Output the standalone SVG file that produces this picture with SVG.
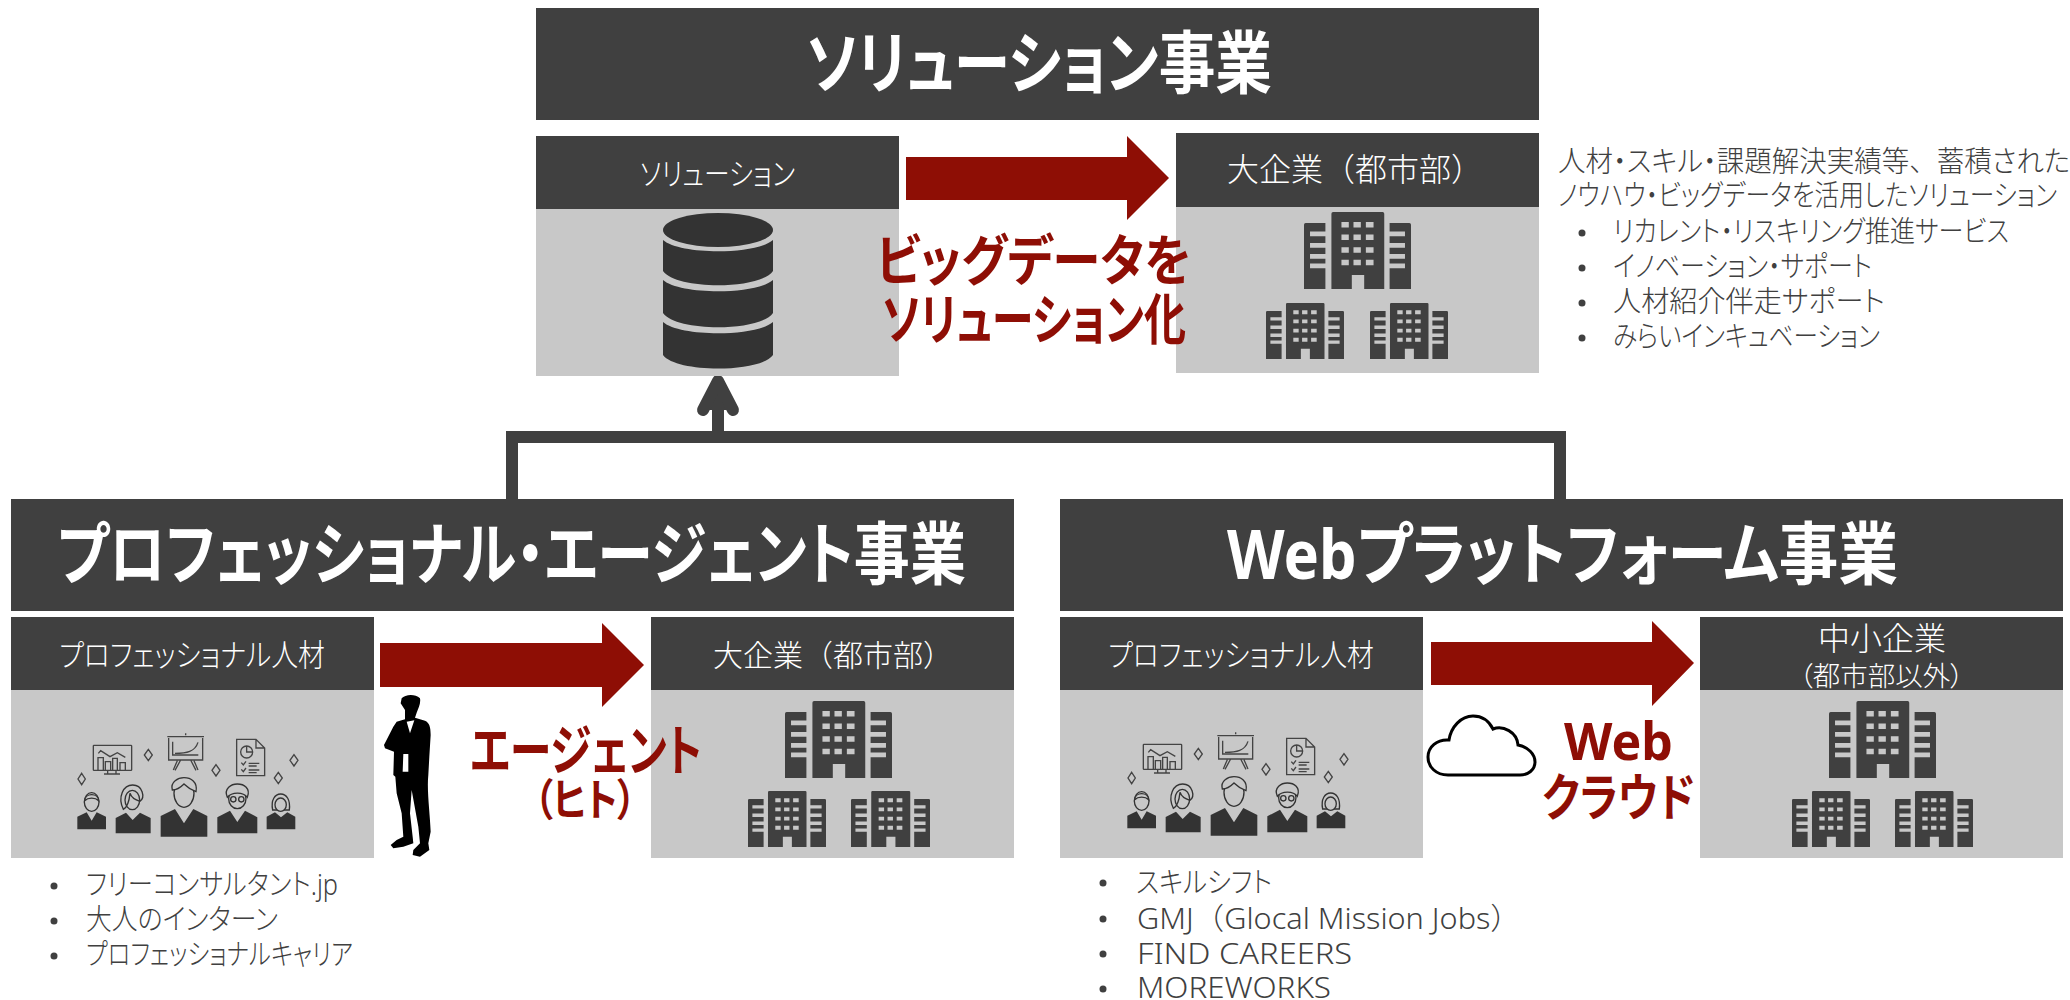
<svg xmlns="http://www.w3.org/2000/svg" width="2070" height="1000" viewBox="0 0 2070 1000">
<style>
text{font-family:"Noto Sans","Noto Sans CJK JP",sans-serif;font-feature-settings:"palt";white-space:pre}
.bar{fill:#404040}.body{fill:#c8c8c8}.red{fill:#8e0e05}
.h1{fill:#fff;font-size:68px;font-weight:700}
.h2{fill:#fff;font-size:31px;font-weight:300}
.big{fill:#8e0e05;font-size:55px;font-weight:700}
.li{fill:#404040;font-size:29px;font-weight:300}
.lat{font-size:30px}
.nop{font-feature-settings:normal}
.dot{fill:#404040}
.pf{fill:#333}
.ph{fill:#c8c8c8;stroke:#333;stroke-width:4}
</style>
<defs>
<symbol id="bld" viewBox="0 0 320 229" preserveAspectRatio="none">
<path fill="#404040" fill-rule="evenodd" d="M82 5Q82 0 87 0H235Q240 0 240 5V229H180V187H143V229H82ZM112 30V46H134V30ZM148 30V46H170V30ZM185 30V46H208V30ZM112 67V83H134V67ZM148 67V83H170V67ZM185 67V83H208V67ZM112 105V121H134V105ZM148 105V121H170V105ZM185 105V121H208V105ZM112 142V158H134V142ZM148 142V158H170V142ZM185 142V158H208V142Z"/>
<path fill="#404040" d="M0 38Q0 33 5 33H64V58H18V72H64V92H18V106H64V125H18V139H64V153H18V167H64V229H0Z"/>
<path fill="#404040" d="M320 38Q320 33 315 33H256V58H302V72H256V92H302V106H256V125H302V139H256V153H302V167H256V229H320Z"/>
</symbol>
<g id="team" transform="translate(60 710) scale(.3333)">
<g fill="none" stroke="#444" stroke-width="4">
<path d="M65 190L76 207L65 224L54 207ZM265 118L277 135L265 152L253 135ZM468 164L480 181L468 198L456 181ZM655 187L667 204L655 221L643 204ZM702 134L714 151L702 168L690 151Z"/>
<rect x="100" y="106" width="115" height="75" rx="2"/>
<path d="M143 181V191M168 181V191M132 192H180M114 181V143H130V181M136 181V155H152V181M158 181V145H172V181M180 181V158H196V181M115 130L122 122L150 140L172 128L196 142"/>
<path d="M322 80H432M326 84V150H428V84M377 76V70M338 95V135H415M345 130C380 130 405 125 414 97M362 150L345 181M392 150L408 181M352 152L340 180M402 152L414 180"/>
<path d="M530 88H588L614 114V197H530ZM588 88V114H614"/>
<circle cx="560" cy="126" r="18"/><path d="M560 108V126H578M566 160H598M566 168H590M566 180H598M566 188H590M544 158L550 165L558 154M544 178L550 185L558 174"/>
</g>
<path class="pf" d="M52 358V320L80 307L95 332L110 307L138 320V358Z"/>
<path class="pf" d="M167 370V324L198 308L218 330L240 308L272 324V370Z"/>
<path class="pf" d="M302 380V318L345 297L372 340L400 297L442 318V380Z"/>
<path class="pf" d="M472 370V322L510 302L532 336L555 302L592 322V370Z"/>
<path class="pf" d="M620 358V320L645 307L663 322L682 307L706 320V358Z"/>
<ellipse class="ph" cx="95" cy="276" rx="22" ry="28"/><path class="ph" d="M74 272C76 248 114 248 116 272C106 262 84 262 74 272Z"/>
<path class="ph" d="M190 298C172 260 190 225 218 225C248 225 256 262 240 274C225 270 214 262 210 250C208 270 205 290 190 298Z"/>
<ellipse class="ph" cx="217" cy="270" rx="22" ry="29" style="fill:none"/>
<ellipse class="ph" cx="372" cy="250" rx="30" ry="42"/><path class="ph" d="M337 240C330 215 355 203 372 203C392 203 414 215 408 245C395 240 380 230 372 222C362 232 350 240 337 240Z"/>
<ellipse class="ph" cx="532" cy="266" rx="26" ry="30"/><path class="ph" d="M502 262C490 235 515 222 532 222C552 222 573 235 562 262C550 245 515 245 502 262Z"/><circle class="ph" cx="520" cy="268" r="8"/><circle class="ph" cx="544" cy="268" r="8"/>
<path class="ph" d="M638 300C632 270 645 252 662 252C680 252 692 270 688 300Z"/><ellipse class="ph" cx="662" cy="284" rx="17" ry="20"/>
</g>
</defs>

<g id="connectors">
<path d="M512 499V437H1560V499" fill="none" stroke="#404040" stroke-width="12"/>
<path d="M718 437V400" fill="none" stroke="#404040" stroke-width="12"/>
<path d="M703 410L718 381L733 410" fill="#404040" stroke="#404040" stroke-width="12" stroke-linejoin="round" stroke-linecap="round"/>
<path class="red" d="M906 157H1127V136L1169 178L1127 220V200H906Z"/>
<path class="red" d="M380 643H602V623L644 665L602 707V687H380Z"/>
<path class="red" d="M1431 642H1652V621L1694 663L1652 706V685H1431Z"/>
</g>

<g id="solution-title"><rect class="bar" x="536" y="8" width="1003" height="112"/>
<text class="h1" x="806" y="88" textLength="466" lengthAdjust="spacingAndGlyphs">ソリューション事業</text></g>

<g id="solution-box"><rect class="body" x="536" y="209" width="363" height="167"/><rect class="bar" x="536" y="136" width="363" height="73"/>
<text class="h2" x="640" y="185" textLength="155" lengthAdjust="spacingAndGlyphs">ソリューション</text>
<ellipse cx="718" cy="230" rx="55" ry="17" fill="#333"/>
<path fill="#333" d="M663 240C680 255 756 255 773 240V271C760 290 676 290 663 271Z"/>
<path fill="#333" d="M663 280C680 295 756 295 773 280V313C760 332 676 332 663 313Z"/>
<path fill="#333" d="M663 322C680 337 756 337 773 322V355C760 373 676 373 663 355Z"/>
</g>

<g id="solution-client"><rect class="body" x="1176" y="207" width="363" height="166"/><rect class="bar" x="1176" y="133" width="363" height="74"/>
<text class="h2 nop" x="1227" y="181" style="font-size:32px">大企業（都市部）</text>
<use href="#bld" x="1304" y="212" width="107" height="77"/>
<use href="#bld" x="1266" y="303" width="78" height="56"/>
<use href="#bld" x="1370" y="303" width="78" height="56"/>
</g>

<g id="solution-label">
<text class="big" x="876" y="280" textLength="315" lengthAdjust="spacingAndGlyphs">ビッグデータを</text>
<text class="big" x="882" y="339" textLength="304" lengthAdjust="spacingAndGlyphs">ソリューション化</text></g>

<g id="solution-notes">
<text class="li" x="1558" y="172" textLength="512" lengthAdjust="spacingAndGlyphs">人材・スキル・課題解決実績等<tspan class="nop">、</tspan>蓄積された</text>
<text class="li" x="1558" y="206" textLength="499" lengthAdjust="spacingAndGlyphs">ノウハウ・ビッグデータを活用したソリューション</text>
<circle class="dot" cx="1582" cy="233" r="3.5"/><text class="li" x="1613" y="242" textLength="396" lengthAdjust="spacingAndGlyphs">リカレント・リスキリング推進サービス</text>
<circle class="dot" cx="1582" cy="268" r="3.5"/><text class="li" x="1613" y="277" textLength="259" lengthAdjust="spacingAndGlyphs">イノベーション・サポート</text>
<circle class="dot" cx="1582" cy="303" r="3.5"/><text class="li" x="1613" y="312" textLength="272" lengthAdjust="spacingAndGlyphs">人材紹介伴走サポート</text>
<circle class="dot" cx="1582" cy="338" r="3.5"/><text class="li" x="1613" y="347" textLength="267" lengthAdjust="spacingAndGlyphs">みらいインキュベーション</text>
</g>

<g id="agent-title"><rect class="bar" x="11" y="499" width="1003" height="112"/>
<text class="h1" x="57" y="579" textLength="909" lengthAdjust="spacingAndGlyphs">プロフェッショナル・エージェント事業</text></g>

<g id="agent-source"><rect class="body" x="11" y="690" width="363" height="168"/><rect class="bar" x="11" y="617" width="363" height="73"/>
<text class="h2" x="59" y="666" textLength="266" lengthAdjust="spacingAndGlyphs">プロフェッショナル人材</text>
<use href="#team"/></g>

<g id="agent-client"><rect class="body" x="651" y="690" width="363" height="168"/><rect class="bar" x="651" y="617" width="363" height="73"/>
<text class="h2 nop" x="713" y="666" style="font-size:30px">大企業（都市部）</text>
<use href="#bld" x="785" y="701" width="107" height="77"/>
<use href="#bld" x="748" y="791" width="78" height="56"/>
<use href="#bld" x="851" y="791" width="79" height="56"/></g>

<g id="agent-label">
<g transform="translate(370 680) scale(.3333)">
<path fill="#000" d="M95 55C105 43 135 40 150 55C153 70 145 85 140 98L135 113L165 122C178 128 182 140 182 165L178 230L175 285C170 330 180 400 182 455L175 490L178 510L150 530L128 525L130 510L150 490L145 440L125 330L120 400L128 470L130 490L100 500L70 505L62 495L80 480L100 470L95 400L80 340L76 290L70 285L72 215L45 205L42 195L70 140L80 125L105 118L105 90L92 70Z"/>
<path fill="#fff" d="M110 125L133 121L120 160ZM100 222H115V275H98Z"/>
</g>
<text class="big" x="470" y="770" textLength="232" lengthAdjust="spacingAndGlyphs">エージェント</text>
<text class="big" x="534" y="816" textLength="102" lengthAdjust="spacingAndGlyphs" style="font-size:44px">（ヒト）</text></g>

<g id="agent-list">
<circle class="dot" cx="54" cy="886" r="3.5"/><text class="li" x="86" y="895" textLength="252" lengthAdjust="spacingAndGlyphs">フリーコンサルタント.jp</text>
<circle class="dot" cx="54" cy="921" r="3.5"/><text class="li" x="86" y="930" textLength="192" lengthAdjust="spacingAndGlyphs">大人のインターン</text>
<circle class="dot" cx="54" cy="956" r="3.5"/><text class="li" x="86" y="965" textLength="267" lengthAdjust="spacingAndGlyphs">プロフェッショナルキャリア</text></g>

<g id="web-title"><rect class="bar" x="1060" y="499" width="1003" height="112"/>
<text class="h1" x="1227" y="579" textLength="671" lengthAdjust="spacingAndGlyphs">Webプラットフォーム事業</text></g>

<g id="web-source"><rect class="body" x="1060" y="690" width="363" height="168"/><rect class="bar" x="1060" y="617" width="363" height="73"/>
<text class="h2" x="1108" y="666" textLength="266" lengthAdjust="spacingAndGlyphs">プロフェッショナル人材</text>
<use href="#team" transform="translate(1050 -1)"/></g>

<g id="web-client"><rect class="body" x="1700" y="690" width="363" height="168"/><rect class="bar" x="1700" y="617" width="363" height="73"/>
<text class="h2 nop" x="1818" y="650" style="font-size:32px">中小企業</text>
<text class="h2" x="1799" y="686" textLength="165" lengthAdjust="spacingAndGlyphs" style="font-size:27px">（都市部以外）</text>
<use href="#bld" x="1829" y="701" width="107" height="77"/>
<use href="#bld" x="1792" y="791" width="78" height="56"/>
<use href="#bld" x="1895" y="791" width="78" height="56"/></g>

<g id="web-label">
<path d="M1448 775C1436 775 1428 767 1428 757C1428 747 1437 739 1449 740C1451 727 1461 716 1473 716C1482 716 1489 721 1493 729C1503 725 1517 732 1518 745C1528 747 1535 754 1535 762C1535 770 1528 775 1520 775Z" fill="#fff" stroke="#000" stroke-width="3"/>
<text class="big" x="1564" y="760" textLength="109" lengthAdjust="spacingAndGlyphs" style="font-size:52px">Web</text>
<text class="big" x="1542" y="816" textLength="153" lengthAdjust="spacingAndGlyphs" style="font-size:51px">クラウド</text></g>

<g id="web-list">
<circle class="dot" cx="1103" cy="883" r="3.5"/><text class="li" x="1136" y="893" textLength="136" lengthAdjust="spacingAndGlyphs">スキルシフト</text>
<circle class="dot" cx="1103" cy="919" r="3.5"/><text class="li lat nop" x="1137" y="929" textLength="384" lengthAdjust="spacingAndGlyphs">GMJ（Glocal Mission Jobs）</text>
<circle class="dot" cx="1103" cy="954" r="3.5"/><text class="li lat" x="1137" y="964" textLength="215" lengthAdjust="spacingAndGlyphs">FIND CAREERS</text>
<circle class="dot" cx="1103" cy="989" r="3.5"/><text class="li lat" x="1137" y="998" textLength="194" lengthAdjust="spacingAndGlyphs">MOREWORKS</text></g>
</svg>
